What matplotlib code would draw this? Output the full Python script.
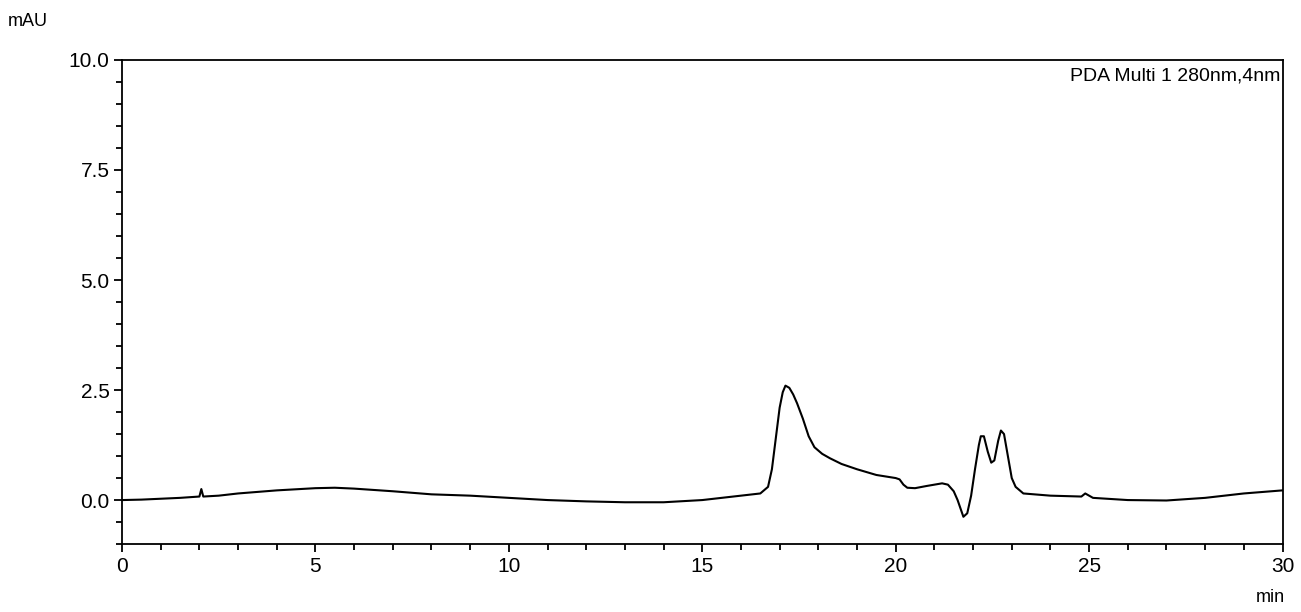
import matplotlib
matplotlib.use("Agg")
import matplotlib.pyplot as plt
from matplotlib.ticker import MultipleLocator

plt.rcParams["font.family"] = ["Liberation Sans", "DejaVu Sans"]

# retention time (min) and absorbance (mAU)
time_min = [0, 0.5, 1, 1.5, 2.0, 2.05, 2.1, 2.5, 3, 4, 5, 5.5, 6, 7, 8, 9, 10,
            11, 12, 13, 14, 15, 15.5, 16, 16.5, 16.7, 16.8, 16.9, 17.0, 17.08,
            17.15, 17.25, 17.35, 17.45, 17.6, 17.75, 17.9, 18.1, 18.3, 18.6,
            19.0, 19.5, 20.0, 20.1, 20.2, 20.3, 20.5, 20.8, 21.0, 21.2, 21.35,
            21.5, 21.6, 21.75, 21.85, 21.95, 22.05, 22.15, 22.2, 22.28, 22.38,
            22.47, 22.55, 22.65, 22.72, 22.8, 22.9, 23.0, 23.1, 23.3, 24.0,
            24.8, 24.9, 25.1, 26, 27, 28, 29, 30]
signal_mau = [0.0, 0.01, 0.03, 0.05, 0.08, 0.25, 0.08, 0.1, 0.15, 0.22, 0.27,
              0.28, 0.26, 0.2, 0.13, 0.1, 0.05, 0.0, -0.03, -0.05, -0.05, 0.0,
              0.05, 0.1, 0.15, 0.3, 0.7, 1.4, 2.1, 2.45, 2.6, 2.55, 2.4, 2.2,
              1.85, 1.45, 1.2, 1.05, 0.95, 0.82, 0.7, 0.57, 0.5, 0.47, 0.35,
              0.28, 0.27, 0.32, 0.35, 0.38, 0.35, 0.2, 0.0, -0.38, -0.3, 0.1,
              0.7, 1.25, 1.45, 1.45, 1.1, 0.85, 0.9, 1.35, 1.58, 1.5, 1.0, 0.5,
              0.3, 0.15, 0.1, 0.08, 0.15, 0.05, 0.0, -0.01, 0.05, 0.15, 0.22]

fig = plt.figure(figsize=(13.01, 6.12), dpi=100)
ax = fig.add_axes([0.0938, 0.111, 0.892, 0.791])
ax.plot(time_min, signal_mau, color="black", lw=1.5)

ax.set_xlim(0, 30)
ax.set_ylim(-1.0, 10.0)
ax.xaxis.set_major_locator(MultipleLocator(5))
ax.xaxis.set_minor_locator(MultipleLocator(1))
ax.yaxis.set_major_locator(MultipleLocator(2.5))
ax.yaxis.set_minor_locator(MultipleLocator(0.5))
ax.yaxis.set_major_formatter(plt.FormatStrFormatter("%.1f"))
ax.tick_params(which="both", direction="out", top=False, right=False,
               labelsize=15, width=1.3, pad=3)
ax.tick_params(which="major", length=6)
ax.tick_params(which="minor", length=4)
for s in ax.spines.values():
    s.set_linewidth(1.3)

ax.text(0.998, 0.985, "PDA Multi 1 280nm,4nm", transform=ax.transAxes,
        ha="right", va="top", fontsize=14)
fig.text(8 / 1301, 1 - 22 / 612, "mAU", ha="left", va="center", fontsize=13)
fig.text(1285 / 1301, 1 - 598 / 612, "min", ha="right", va="center", fontsize=13)

fig.savefig("out.png", dpi=100)
